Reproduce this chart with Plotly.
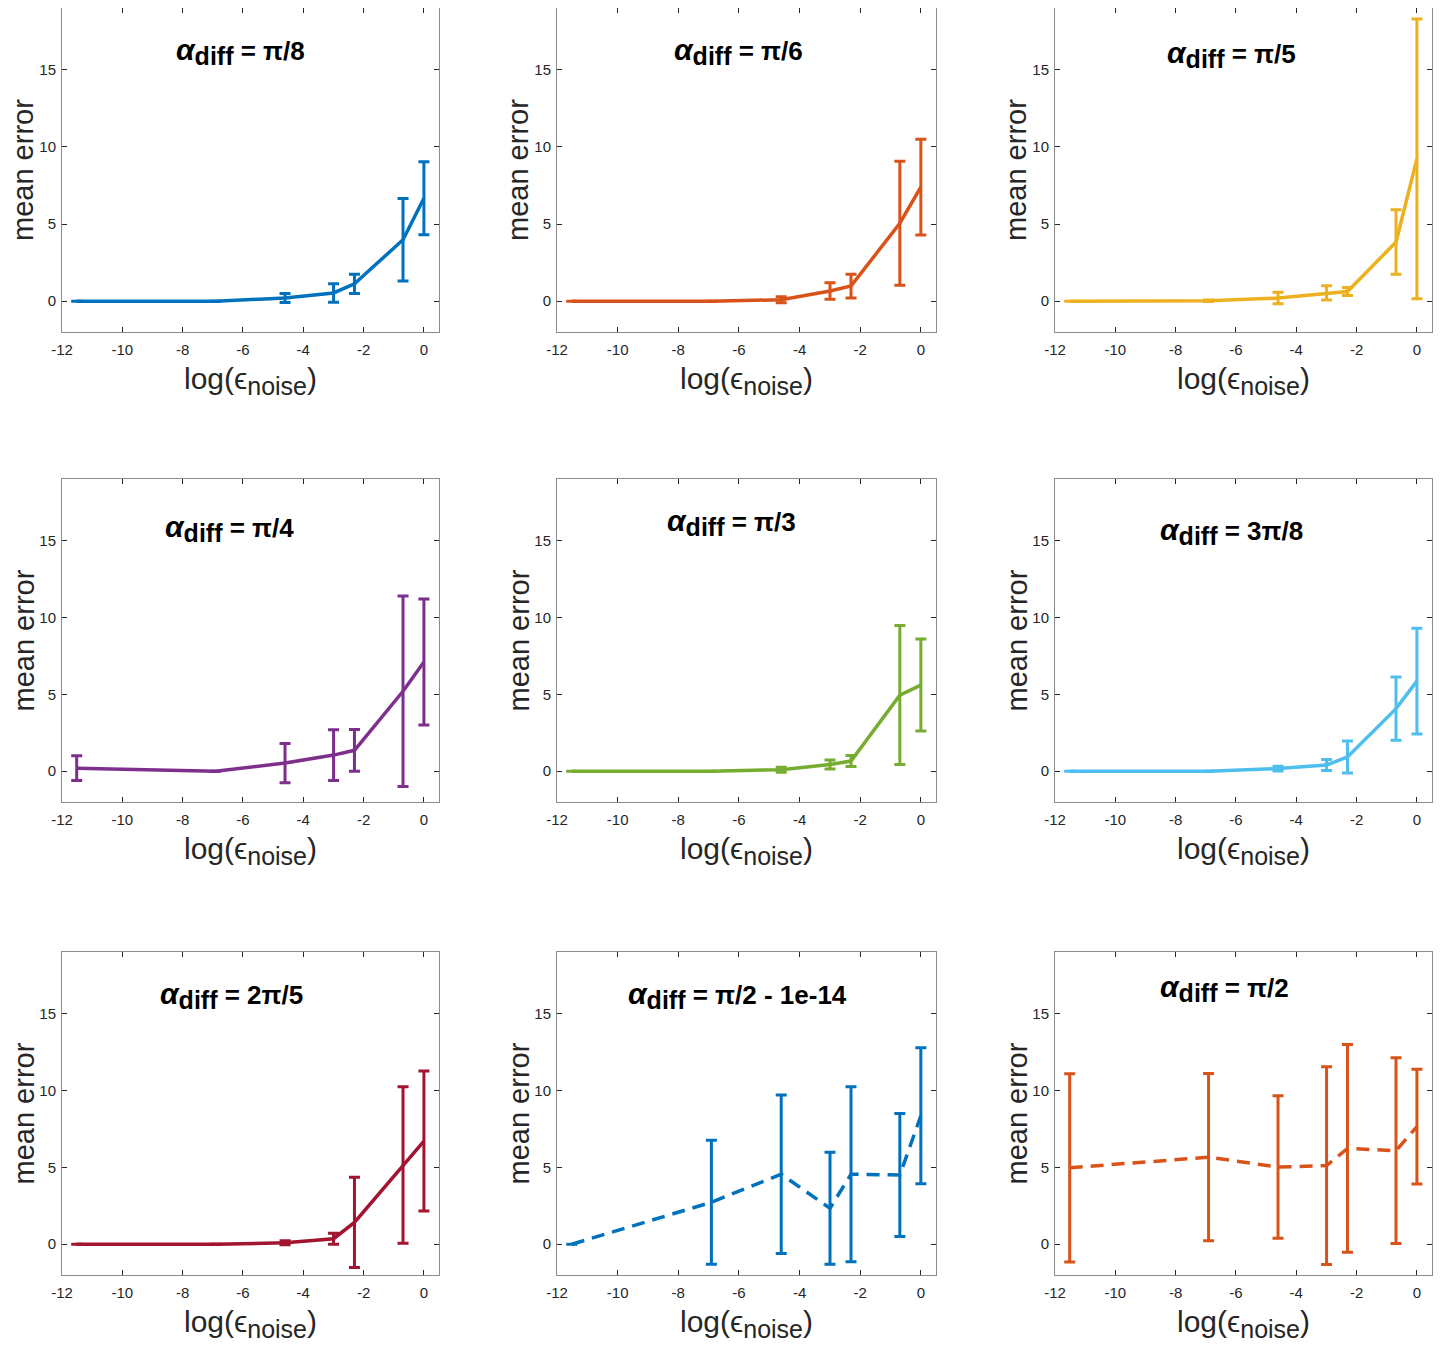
import plotly.graph_objects as go

# x values: log(eps_noise)
x_log_eps = [-11.513, -6.908, -4.605, -2.996, -2.303, -0.693, 0.0]

titles = ["π/8", "π/6", "π/5", "π/4", "π/3", "3π/8", "2π/5", "π/2 - 1e-14", "π/2"]

mean_pi8 = [0.0, 0.0, 0.20, 0.53, 1.12, 3.98, 6.67]
err_pi8 = [0.0, 0.0, 0.29, 0.60, 0.62, 2.68, 2.37]

mean_pi6 = [0.0, 0.0, 0.09, 0.66, 0.98, 5.05, 7.39]
err_pi6 = [0.0, 0.0, 0.19, 0.53, 0.77, 4.02, 3.10]

mean_pi5 = [0.0, 0.02, 0.20, 0.53, 0.62, 3.83, 9.22]
err_pi5 = [0.0, 0.05, 0.37, 0.46, 0.26, 2.09, 9.07]

mean_pi4 = [0.20, 0.0, 0.53, 1.05, 1.36, 5.20, 7.10]
err_pi4 = [0.81, 0.0, 1.28, 1.65, 1.36, 6.20, 4.10]

mean_pi3 = [0.0, 0.0, 0.10, 0.44, 0.66, 4.95, 5.60]
err_pi3 = [0.0, 0.0, 0.16, 0.29, 0.36, 4.52, 2.99]

mean_3pi8 = [0.0, 0.0, 0.17, 0.40, 0.93, 4.07, 5.86]
err_3pi8 = [0.0, 0.0, 0.15, 0.36, 1.04, 2.06, 3.44]

mean_2pi5 = [0.0, 0.0, 0.09, 0.36, 1.42, 5.15, 6.71]
err_2pi5 = [0.0, 0.0, 0.13, 0.36, 2.94, 5.09, 4.55]

mean_pi2m = [0.0, 2.73, 4.55, 2.34, 4.55, 4.50, 8.35]
err_pi2m = [0.0, 4.03, 5.15, 3.64, 5.69, 4.00, 4.42]

mean_pi2 = [4.97, 5.66, 5.02, 5.11, 6.23, 6.08, 7.65]
err_pi2 = [6.12, 5.44, 4.63, 6.43, 6.75, 6.04, 3.73]

means = [mean_pi8, mean_pi6, mean_pi5, mean_pi4, mean_pi3, mean_3pi8, mean_2pi5, mean_pi2m, mean_pi2]
errs = [err_pi8, err_pi6, err_pi5, err_pi4, err_pi3, err_3pi8, err_2pi5, err_pi2m, err_pi2]

x_ticks = [-12, -10, -8, -6, -4, -2, 0]
x_tick_labels = ["-12", "-10", "-8", "-6", "-4", "-2", "0"]
y_ticks = [0, 5, 10, 15]
y_tick_labels = ["0", "5", "10", "15"]

# styles
colors = ["#0072BD", "#D95319", "#EDB120", "#7E2F8E", "#77AC30", "#4DBEEE", "#A2142F", "#0072BD", "#D95319"]
dashes = ["solid"] * 7 + ["13px,8px", "13px,8px"]
title_pos = [(-6.09, 16.2), (-6.03, 16.2), (-6.16, 16.0), (-6.43, 15.8), (-6.23, 16.2),
             (-6.16, 15.6), (-6.39, 16.2), (-6.06, 16.2), (-6.37, 16.6)]

# page body has an 8px margin; size the figure to fit inside the window
PAGE_OFF = 8
W, H = 1446 - 2 * PAGE_OFF, 1353 - 2 * PAGE_OFF
col_px = [(62, 439), (557, 936), (1055, 1432)]
row_px = [(6, 332), (479, 802), (952, 1275)]

FONT = "Liberation Sans, Arial, Helvetica, sans-serif"
fig = go.Figure()
layout = dict(width=W, height=H, margin=dict(l=0, r=0, t=0, b=0, autoexpand=False),
              plot_bgcolor="white", paper_bgcolor="white", showlegend=False,
              font=dict(family=FONT, color="#262626"))
annotations = []

for i in range(9):
    r, c = divmod(i, 3)
    ax = "" if i == 0 else str(i + 1)
    xd = [(col_px[c][0] - PAGE_OFF) / W, (col_px[c][1] - PAGE_OFF) / W]
    yd = [max(0.0, 1 - (row_px[r][1] - PAGE_OFF) / H), min(1.0, 1 - (row_px[r][0] - PAGE_OFF) / H)]
    fig.add_trace(go.Scatter(
        x=x_log_eps, y=means[i], mode="lines",
        line=dict(color=colors[i], width=3.5, dash=dashes[i]),
        error_y=dict(type="data", array=errs[i], visible=True, color=colors[i],
                     thickness=3, width=5.5),
        xaxis="x" + ax, yaxis="y" + ax,
    ))
    axis_common = dict(showgrid=False, zeroline=False, showline=True, linecolor="#8c8c8c",
                       linewidth=1, mirror="ticks", ticks="inside", ticklen=5,
                       tickcolor="#262626", tickwidth=1, automargin=False,
                       tickfont=dict(family=FONT, size=15, color="#262626"))
    layout["xaxis" + ax] = dict(axis_common, domain=xd, range=[-12, 0.5],
                                tickvals=x_ticks, ticktext=x_tick_labels,
                                anchor="y" + ax, ticklabelstandoff=4,
                                title=dict(text="log(ϵ<sub><span style='font-size:25px'>noise</span></sub>)",
                                           standoff=10,
                                           font=dict(family=FONT, size=30, color="#262626")))
    layout["yaxis" + ax] = dict(axis_common, domain=yd, range=[-2, 19],
                                tickvals=y_ticks, ticktext=y_tick_labels,
                                anchor="x" + ax, ticklabelstandoff=2)
    # y-axis title
    annotations.append(dict(
        x=0, y=0.5, xref="x" + ax + " domain", yref="y" + ax + " domain",
        xanchor="center", yanchor="middle", xshift=-39, textangle=-90, showarrow=False,
        text="mean error", font=dict(family=FONT, size=29, color="#262626"),
    ))
    tx, ty = title_pos[i]
    annotations.append(dict(
        x=tx, y=ty, xref="x" + ax, yref="y" + ax, showarrow=False,
        xanchor="center", yanchor="middle",
        text="<b><i><span style='font-size:30px'>α</span></i><sub><span style='font-size:25px'>diff</span></sub> = "
             + titles[i] + "</b>",
        font=dict(family=FONT, size=26, color="black"),
    ))

layout["annotations"] = annotations
fig.update_layout(**layout)
fig.write_html("out.html")
